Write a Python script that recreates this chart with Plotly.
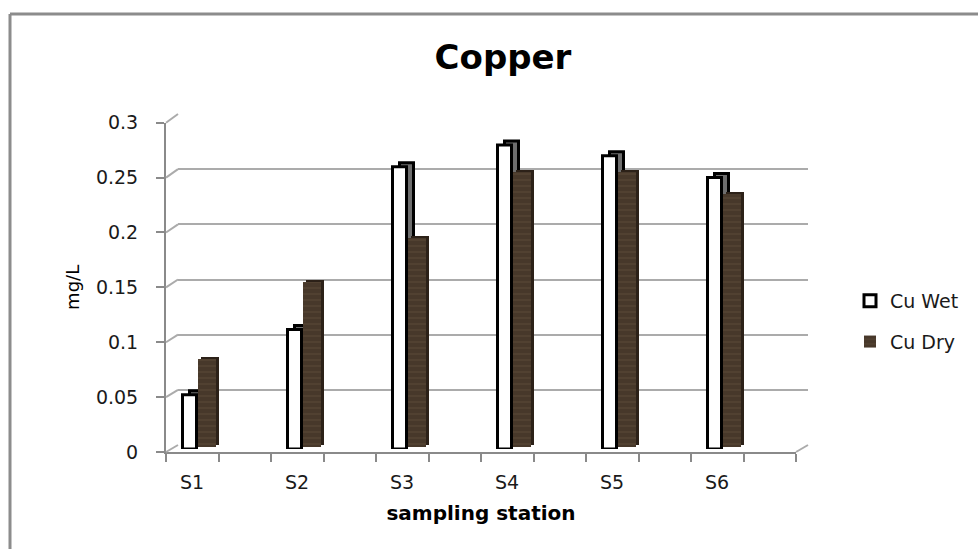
import plotly.graph_objects as go

# ---- data -------------------------------------------------------------
stations = ["S1", "S2", "S3", "S4", "S5", "S6"]
cu_wet = [0.05, 0.11, 0.26, 0.28, 0.27, 0.25]
cu_dry = [0.08, 0.15, 0.19, 0.25, 0.25, 0.23]
y_ticks = [0, 0.05, 0.1, 0.15, 0.2, 0.25, 0.3]
y_ticktext = ["0", "0.05", "0.1", "0.15", "0.2", "0.25", "0.3"]

# ---- page geometry (pixels) ---------------------------------------------
W, H = 978, 549
FONT = "DejaVu Sans"
TXT = "#1a1a1a"
AXIS_C = "#8a8a8a"
GRID_C = "#ababab"


def xf(px):
    return px / W


def yf(py):
    return 1 - py / H


idx = list(range(len(stations)))
ymax = y_ticks[-1]

# front axes (labels, ticks) and back wall (grid) of the pseudo-3D box
front_x = (166, 796)
front_y = (452, 122.7)          # pixel rows of 0 and ymax
back_x = (178, 808)
back_y = (445, 114)
wet_y = (449, 123.2)
dry_y = (447, 117)
label0, step = 192, 105          # pixel column of first station, spacing
x_range = [(front_x[0] - label0) / step, (front_x[1] - label0) / step]


def ydom(rows):
    return [yf(rows[0]), yf(rows[1])]


def px_per_unit(rows):
    return (rows[0] - rows[1]) / ymax


fig = go.Figure()

# empty traces so that every subplot is created
fig.add_trace(go.Scatter(x=[], y=[], xaxis="x", yaxis="y", showlegend=False, hoverinfo="skip"))
fig.add_trace(go.Scatter(x=[], y=[], xaxis="x2", yaxis="y2", showlegend=False, hoverinfo="skip"))

# wet series: side/top face first, then front face
wet_base = 4 / px_per_unit(wet_y)
fig.add_trace(go.Bar(
    x=idx, y=cu_wet, base=wet_base, xaxis="x3", yaxis="y3",
    offset=(-9.5 + 7) / step, width=14 / step,
    marker=dict(color="#6e6e6e", line=dict(color="black", width=3)),
    showlegend=False, hoverinfo="skip", legendgroup="wet",
))
fig.add_trace(go.Bar(
    x=idx, y=cu_wet, name="Cu Wet", xaxis="x3", yaxis="y3",
    offset=-9.5 / step, width=14 / step,
    marker=dict(color="white", line=dict(color="black", width=3)),
    legendgroup="wet",
))

# dry series: darker side face, then the wood-brown front face
dry_base = 2 / px_per_unit(dry_y)
fig.add_trace(go.Bar(
    x=idx, y=cu_dry, base=dry_base, xaxis="x4", yaxis="y4",
    offset=(6 + 3) / step, width=18 / step,
    marker=dict(color="#2c2118", line=dict(width=0)),
    showlegend=False, hoverinfo="skip", legendgroup="dry",
))
fig.add_trace(go.Bar(
    x=idx, y=cu_dry, name="Cu Dry", xaxis="x4", yaxis="y4",
    offset=6 / step, width=18 / step,
    marker=dict(color="#47382a", line=dict(width=0),
                pattern=dict(shape="-", fgcolor="#62503b", size=6, solidity=0.25)),
    legendgroup="dry",
))

hidden = dict(visible=False, range=[0, ymax], automargin=False, fixedrange=True)
hidden_x = dict(visible=False, range=x_range, automargin=False, fixedrange=True)

fig.update_layout(
    width=W, height=H, autosize=False,
    margin=dict(l=0, r=0, t=0, b=0, pad=0),
    paper_bgcolor="white", plot_bgcolor="rgba(0,0,0,0)",
    barmode="overlay",
    font=dict(family=FONT, size=19, color=TXT),
    title=dict(text="Copper", x=xf(503), y=yf(57), xanchor="center", yanchor="middle",
               automargin=False,
               font=dict(family=FONT, size=34, weight="bold", color="black")),
    # front axes
    xaxis=dict(
        domain=[xf(front_x[0]), xf(front_x[1])], range=x_range, anchor="y",
        automargin=False,
        tickmode="array", tickvals=idx, ticktext=stations, ticks="",
        ticklabelstandoff=12,
        showline=True, linecolor=AXIS_C, linewidth=2, showgrid=False, zeroline=False,
        minor=dict(ticks="outside", ticklen=8, tickwidth=2, tickcolor=AXIS_C,
                   tick0=x_range[0], dtick=0.5, showgrid=False),
        title=dict(text="sampling station", standoff=14,
                   font=dict(family=FONT, size=20, weight="bold", color="black")),
        fixedrange=True,
    ),
    yaxis=dict(
        domain=ydom(front_y), range=[0, ymax], anchor="x",
        automargin=False,
        tickmode="array", tickvals=y_ticks, ticktext=y_ticktext,
        ticks="outside", ticklen=8, tickwidth=2, tickcolor=AXIS_C,
        ticklabelstandoff=14,
        showline=True, linecolor=AXIS_C, linewidth=2, showgrid=False, zeroline=False,
        title=dict(text="mg/L", standoff=12, font=dict(family=FONT, size=18, color="black")),
        fixedrange=True,
    ),
    # back wall gridlines
    xaxis2=dict(domain=[xf(back_x[0]), xf(back_x[1])], range=x_range, anchor="y2",
                visible=False, automargin=False, fixedrange=True),
    yaxis2=dict(domain=ydom(back_y), range=[0, ymax], anchor="x2",
                automargin=False,
                tickmode="array", tickvals=y_ticks, showticklabels=False, ticks="",
                showgrid=True, gridcolor=GRID_C, gridwidth=2, zeroline=False,
                showline=False, fixedrange=True),
    # bar layers
    xaxis3=dict(domain=[xf(front_x[0]), xf(front_x[1])], anchor="y3", **hidden_x),
    yaxis3=dict(domain=ydom(wet_y), anchor="x3", **hidden),
    xaxis4=dict(domain=[xf(front_x[0]), xf(front_x[1])], anchor="y4", **hidden_x),
    yaxis4=dict(domain=ydom(dry_y), anchor="x4", **hidden),
    legend=dict(x=xf(850), y=yf(282), xanchor="left", yanchor="top",
                traceorder="grouped", tracegroupgap=13,
                font=dict(family=FONT, size=19, color=TXT),
                bgcolor="rgba(0,0,0,0)"),
    showlegend=True,
)


def front_row(v):
    return front_y[0] - v * px_per_unit(front_y)


def back_row(v):
    return back_y[0] - v * px_per_unit(back_y)


shapes = []
# left wall edges joining each front tick to its back gridline
for v in y_ticks:
    shapes.append(dict(type="line", xref="paper", yref="paper",
                       x0=xf(front_x[0]), y0=yf(front_row(v)),
                       x1=xf(back_x[0]), y1=yf(back_row(v)),
                       line=dict(color=GRID_C, width=2)))
# right edge of the floor
shapes.append(dict(type="line", xref="paper", yref="paper",
                   x0=xf(front_x[1]), y0=yf(front_row(0)),
                   x1=xf(back_x[1]), y1=yf(back_row(0)),
                   line=dict(color=GRID_C, width=2)))
# chart frame (top and left edges)
shapes.append(dict(type="line", xref="paper", yref="paper",
                   x0=xf(10), y0=yf(14), x1=1.0, y1=yf(14),
                   line=dict(color="#8c8c8c", width=3)))
shapes.append(dict(type="line", xref="paper", yref="paper",
                   x0=xf(10), y0=yf(14), x1=xf(10), y1=0.0,
                   line=dict(color="#8c8c8c", width=3)))
fig.update_layout(shapes=shapes)

fig.write_html("out.html")
